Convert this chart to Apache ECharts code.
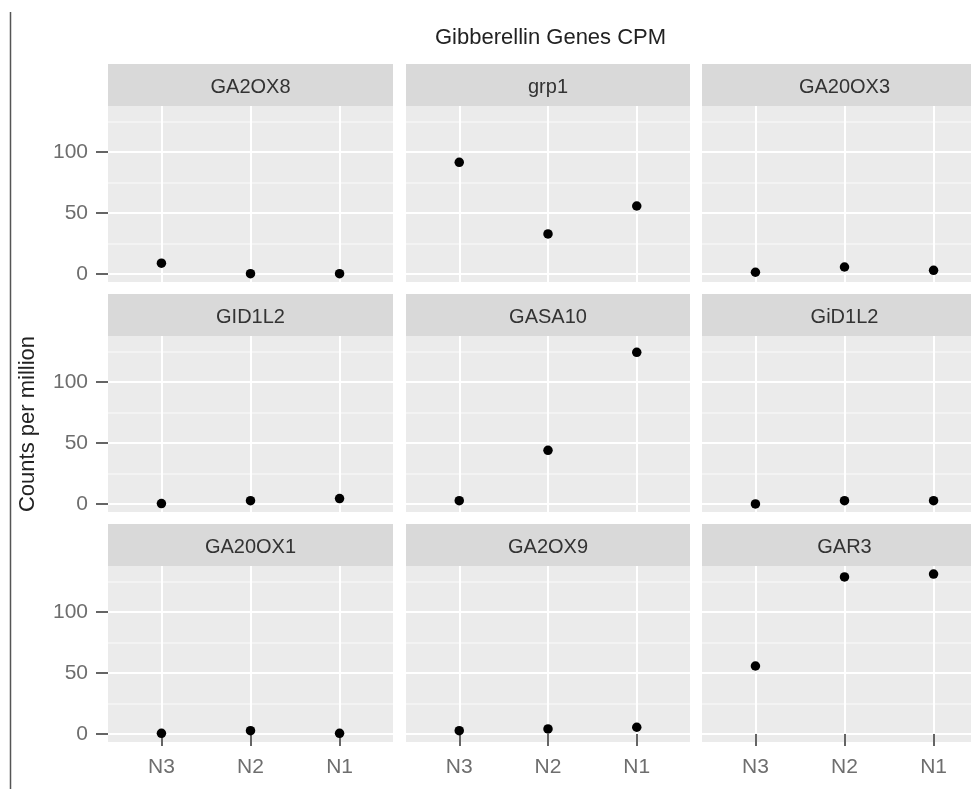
<!DOCTYPE html>
<html>
<head>
<meta charset="utf-8">
<script src="https://cdn.jsdelivr.net/npm/echarts@6/dist/echarts.min.js"></script>
<style>
html,body{margin:0;padding:0;background:#fff;}
#chart{width:971px;height:789px;}
</style>
</head>
<body>
<div id="chart"></div>
<script>
// ---- data ----
const categories = ['N3', 'N2', 'N1'];
const genes = ['GA2OX8', 'grp1', 'GA20OX3', 'GID1L2', 'GASA10', 'GiD1L2', 'GA20OX1', 'GA2OX9', 'GAR3'];
const ga2ox8  = [8.8, 0.2, 0.2];
const grp1    = [91.5, 32.8, 55.7];
const ga20ox3 = [1.4, 5.7, 3.0];
const gid1l2a = [0.3, 2.7, 4.4];
const gasa10  = [2.7, 44.0, 124.3];
const gid1l2b = [0.0, 2.7, 2.7];
const ga20ox1 = [0.5, 2.7, 0.5];
const ga2ox9  = [2.7, 4.1, 5.5];
const gar3    = [55.7, 128.7, 131.1];
const yMajorTicks = [0, 50, 100];
const yMinorTicks = [25, 75, 125];
const chartTitle = 'Gibberellin Genes CPM';
const yAxisTitle = 'Counts per million';

const seriesValues = [ga2ox8, grp1, ga20ox3, gid1l2a, gasa10, gid1l2b, ga20ox1, ga2ox9, gar3];

// ---- layout ----
const W = 971;
const FONT = '"Liberation Sans", Arial, sans-serif';
const colLeft = [108, 406, 702];
const colWidth = [285, 284, 285];
const rowTop = [106, 336, 566];
const panelH = 176;
const stripH = 42;
const yMin = -6.6, yMax = 137.7;
const xMin = 0.4, xMax = 3.6;
const catPos = categories.map((c, i) => i + 1);

const grids = [], xAxes = [], yAxes = [], minorYAxes = [], series = [], graphics = [];

for (let i = 0; i < 9; i++) {
  const r = Math.floor(i / 3), c = i % 3;
  // the right-most column runs off the canvas edge: keep its scale, cut its range
  const visW = Math.min(colWidth[c], W - colLeft[c]);
  const thisXMax = xMin + (xMax - xMin) * visW / colWidth[c];
  grids.push({
    left: colLeft[c], top: rowTop[r], width: visW, height: panelH,
    show: true, backgroundColor: '#EBEBEB', borderWidth: 0, containLabel: false
  });
  const bottomRow = r === 2, leftCol = c === 0;
  xAxes.push({
    type: 'value', gridIndex: i, min: xMin, max: thisXMax,
    axisLine: {show: false},
    axisTick: {show: bottomRow, length: 12, customValues: catPos, lineStyle: {color: '#333', width: 1.5}},
    axisLabel: {show: bottomRow, customValues: catPos, margin: 15,
      formatter: v => categories[Math.round(v) - 1] || '',
      fontSize: 21, color: '#6e6e6e', fontFamily: FONT},
    splitLine: {show: true, lineStyle: {color: '#FFFFFF', width: 2}}
  });
  const ya = {
    type: 'value', gridIndex: i, min: yMin, max: yMax,
    axisLine: {show: false},
    axisTick: {show: leftCol, length: 12, customValues: yMajorTicks, lineStyle: {color: '#333', width: 1.5}},
    axisLabel: {show: leftCol, customValues: yMajorTicks, margin: 20, fontSize: 21, color: '#6e6e6e', fontFamily: FONT},
    splitLine: {show: true, lineStyle: {color: '#FFFFFF', width: 2}}
  };
  if (i === 3) {
    ya.name = yAxisTitle;
    ya.nameLocation = 'middle';
    ya.nameRotate = 90;
    ya.nameGap = 69;
    ya.nameTextStyle = {fontSize: 22, color: '#222', fontFamily: FONT};
  }
  yAxes.push(ya);
  minorYAxes.push({
    type: 'value', gridIndex: i, min: yMin, max: yMax, position: 'left',
    axisLine: {show: false},
    axisTick: {show: false, customValues: yMinorTicks},
    axisLabel: {show: false, customValues: yMinorTicks},
    splitLine: {show: true, lineStyle: {color: '#F6F6F6', width: 1.5}},
    z: 0
  });
  series.push({
    type: 'scatter', xAxisIndex: i, yAxisIndex: i,
    data: seriesValues[i].map((v, k) => [catPos[k], v]),
    symbol: 'circle', symbolSize: 9.5,
    itemStyle: {color: '#000000', opacity: 1},
    silent: true, z: 5
  });
  // strip
  graphics.push({
    type: 'rect', silent: true,
    shape: {x: colLeft[c], y: rowTop[r] - stripH, width: colWidth[c], height: stripH},
    style: {fill: '#D9D9D9'}
  });
  graphics.push({
    type: 'text', silent: true,
    x: colLeft[c] + colWidth[c] / 2, y: rowTop[r] - stripH / 2 + 2,
    style: {text: genes[i], fontSize: 20, fill: '#333333', fontFamily: FONT,
      textAlign: 'center', textVerticalAlign: 'middle'}
  });
}
// left border line (as in reference screenshot)
graphics.push({
  type: 'line', silent: true,
  shape: {x1: 10.5, y1: 12, x2: 10.5, y2: 789},
  style: {stroke: '#555', lineWidth: 1.5}
});

const chart = echarts.init(document.getElementById('chart'), null, {renderer: 'canvas'});
chart.setOption({
  animation: false,
  backgroundColor: '#FFFFFF',
  title: {
    text: chartTitle, left: 430, top: 22,
    textStyle: {fontSize: 22, fontWeight: 'normal', color: '#222', fontFamily: FONT}
  },
  grid: grids,
  xAxis: xAxes,
  yAxis: yAxes.concat(minorYAxes),
  series: series,
  graphic: graphics
});
</script>
</body>
</html>
